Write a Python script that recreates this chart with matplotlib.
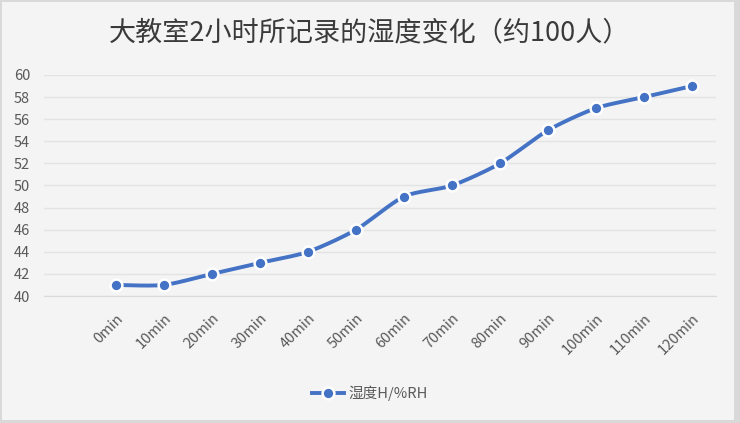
import numpy as np
import matplotlib
matplotlib.use("Agg")
import matplotlib.pyplot as plt
from matplotlib.patches import Rectangle
from matplotlib.lines import Line2D

plt.rcParams['font.family'] = ['Noto Sans CJK SC', 'DejaVu Sans']

categories = ["0min", "10min", "20min", "30min", "40min", "50min", "60min",
              "70min", "80min", "90min", "100min", "110min", "120min"]
humidity = [41, 41, 42, 43, 44, 46, 49, 50, 52, 55, 57, 58, 59]
y_ticks = list(range(40, 61, 2))
title = "大教室2小时所记录的湿度变化（约100人）"
series_name = "湿度H/%RH"

blue = "#4472C4"
grey_text = "#595959"


def smooth(xs, ys, n=20, k=8.0):
    # mild bezier smoothing like the spreadsheet's smoothed line
    xs = np.asarray(xs, float)
    ys = np.asarray(ys, float)
    px = np.concatenate([[xs[0]], xs, [xs[-1]]])
    py = np.concatenate([[ys[0]], ys, [ys[-1]]])
    out_x, out_y = [], []
    for i in range(1, len(px) - 2):
        p0, p1, p2, p3 = (np.array([px[j], py[j]]) for j in range(i - 1, i + 3))
        c1 = p1 + (p2 - p0) / k
        c2 = p2 - (p3 - p1) / k
        t = np.linspace(0, 1, n)[:, None]
        pts = ((1 - t) ** 3) * p1 + 3 * ((1 - t) ** 2) * t * c1 + 3 * (1 - t) * t ** 2 * c2 + t ** 3 * p2
        out_x.extend(pts[:, 0])
        out_y.extend(pts[:, 1])
    return out_x, out_y


fig = plt.figure(figsize=(7.4, 4.23), dpi=100)
fig.patch.set_facecolor("#d9d9d9")
fig.patches.append(Rectangle((2 / 740, 3 / 423), 732 / 740, 418 / 423,
                             transform=fig.transFigure, facecolor="#f4f4f4",
                             edgecolor="none", zorder=-10))

ax = fig.add_axes([44 / 740, 1 - 296 / 423, 672 / 740, 221 / 423])
ax.set_facecolor("none")
x = np.arange(len(categories))
sx, sy = smooth(x, humidity)
ax.plot(sx, sy, color=blue, lw=2.8, solid_capstyle="round", zorder=3)
ax.plot(x, humidity, linestyle="none", marker="o", markersize=8.5,
        markerfacecolor=blue, markeredgecolor="white", markeredgewidth=1.8, zorder=4)

ax.set_xlim(-1.5, len(categories) - 0.5)
ax.set_ylim(40, 60)
ax.set_yticks(y_ticks)
ax.set_xticks(x)
ax.set_xticklabels(categories, rotation=45, ha="right", va="top", rotation_mode="anchor")
ax.grid(axis="y", color="#e3e3e3", lw=1)
ax.set_axisbelow(True)
for s in ["top", "right", "left"]:
    ax.spines[s].set_visible(False)
ax.spines["bottom"].set_color("#d9d9d9")
ax.tick_params(axis="both", length=0, colors=grey_text, labelsize=10.5)
ax.tick_params(axis="y", pad=10)
ax.tick_params(axis="x", pad=11)

fig.text(0.5, 1 - 33 / 423, title, ha="center", va="center", fontsize=19.5,
         color="#3a3a3a", fontweight="medium")

handle = Line2D([], [], color=blue, lw=2.8, marker="o", markersize=8.5,
                markerfacecolor=blue, markeredgecolor="white", markeredgewidth=1.8)
fig.legend([handle], [series_name], loc="center", bbox_to_anchor=(0.5, 1 - 393 / 423),
           frameon=False, fontsize=10.5, labelcolor=grey_text, handlelength=2.2, handletextpad=0.3)

fig.savefig("out.png", dpi=100, facecolor=fig.get_facecolor())
